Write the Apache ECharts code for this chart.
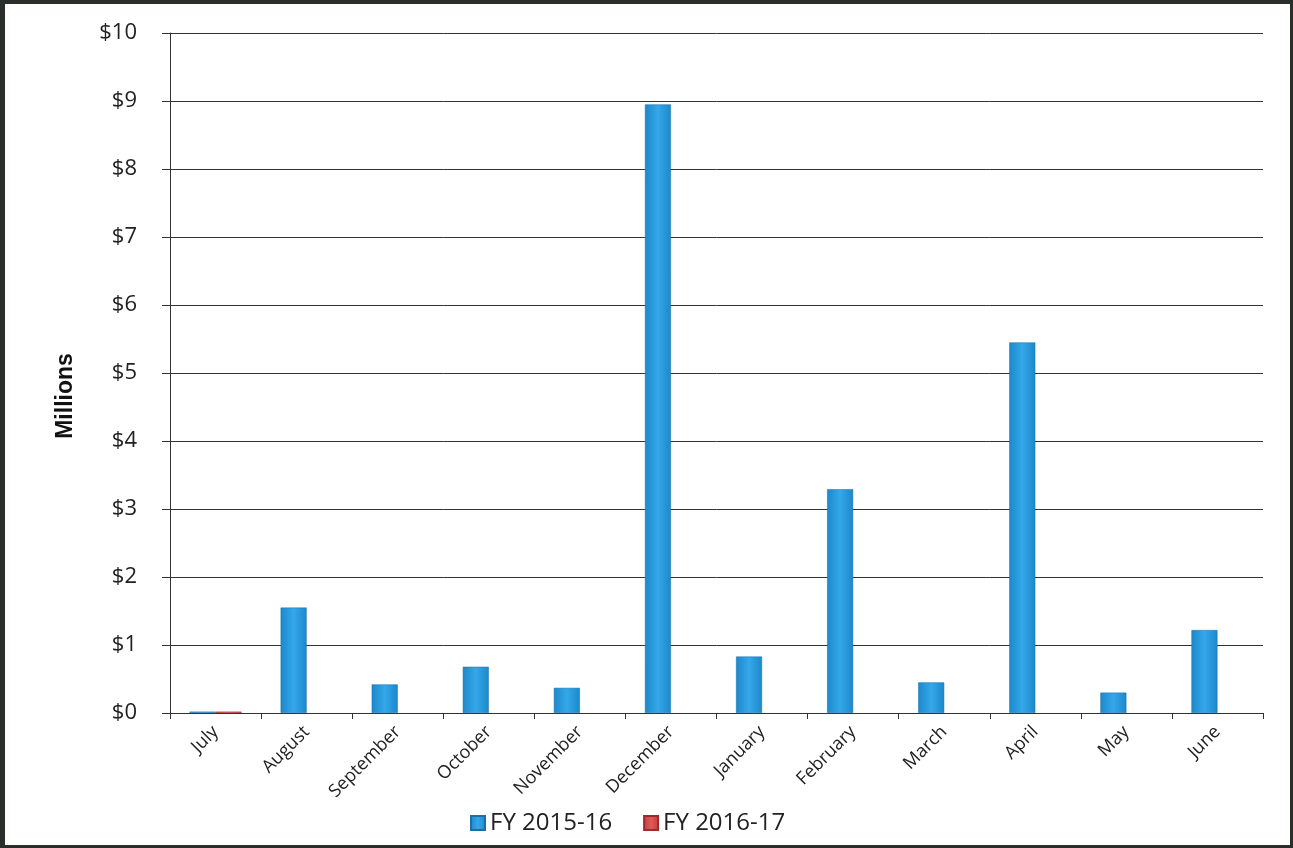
<!DOCTYPE html>
<html><head><meta charset="utf-8">
<script src="https://cdn.jsdelivr.net/npm/echarts@6/dist/echarts.min.js"></script>
<style>html,body{margin:0;padding:0;background:#fff}#c{width:1293px;height:848px;box-sizing:border-box;border:3px solid #2a2f2c;border-left-width:5px;border-top-width:4px}</style>
</head><body><div id="c"></div>
<script>
const months = ["July","August","September","October","November","December","January","February","March","April","May","June"];
const fy1516 = [0.02,1.55,0.42,0.68,0.37,8.95,0.83,3.29,0.45,5.45,0.30,1.22];
const fy1617 = [0.02,null,null,null,null,null,null,null,null,null,null,null];
const yTicks = [0,1,2,3,4,5,6,7,8,9,10];

const chart = echarts.init(document.getElementById('c'));
const blue = new echarts.graphic.LinearGradient(0,0,1,0,[{offset:0,color:'#1c88ca'},{offset:0.5,color:'#34a8ea'},{offset:1,color:'#1c88ca'}]);
const red = new echarts.graphic.LinearGradient(0,0,1,0,[{offset:0,color:'#c43a3a'},{offset:0.5,color:'#e05a5a'},{offset:1,color:'#c43a3a'}]);
chart.setOption({
  animation:false,
  grid:{left:165,right:27,top:29,bottom:132,containLabel:false},
  legend:{bottom:5,left:460,itemWidth:14,itemHeight:14,itemGap:31,
    textStyle:{fontFamily:'Open Sans',fontSize:24,color:'#222'},
    data:[{name:'FY 2015-16',icon:'rect'},{name:'FY 2016-17',icon:'rect'}]},
  xAxis:{type:'category',data:months,
    axisLine:{lineStyle:{color:'#333',width:1}},
    axisTick:{show:true,lineStyle:{color:'#333'},length:6},
    axisLabel:{rotate:45,fontFamily:'Open Sans',fontSize:18,color:'#222',margin:16,interval:0}},
  yAxis:{type:'value',min:0,max:10,interval:1,
    name:'Millions',nameLocation:'middle',nameGap:93,nameRotate:90,
    nameTextStyle:{fontFamily:'Liberation Sans',fontWeight:'bold',fontSize:23,color:'#111',padding:[0,46,0,0]},
    axisLine:{show:true,lineStyle:{color:'#333'}},
    axisTick:{show:true,length:8,lineStyle:{color:'#333'}},
    splitLine:{lineStyle:{color:'#333',width:1}},
    axisLabel:{fontFamily:'Open Sans',fontSize:22,color:'#222',margin:33,formatter:v=>'$'+v}},
  series:[
    {name:'FY 2015-16',type:'bar',data:fy1516,barWidth:26,barGap:'0%',
      itemStyle:{color:blue,borderColor:'#1a6fa8',borderWidth:0.5}},
    {name:'FY 2016-17',type:'bar',data:fy1617,barWidth:26,
      itemStyle:{color:red,borderColor:'#a02a2a',borderWidth:0.5}}
  ]
});
</script></body></html>
